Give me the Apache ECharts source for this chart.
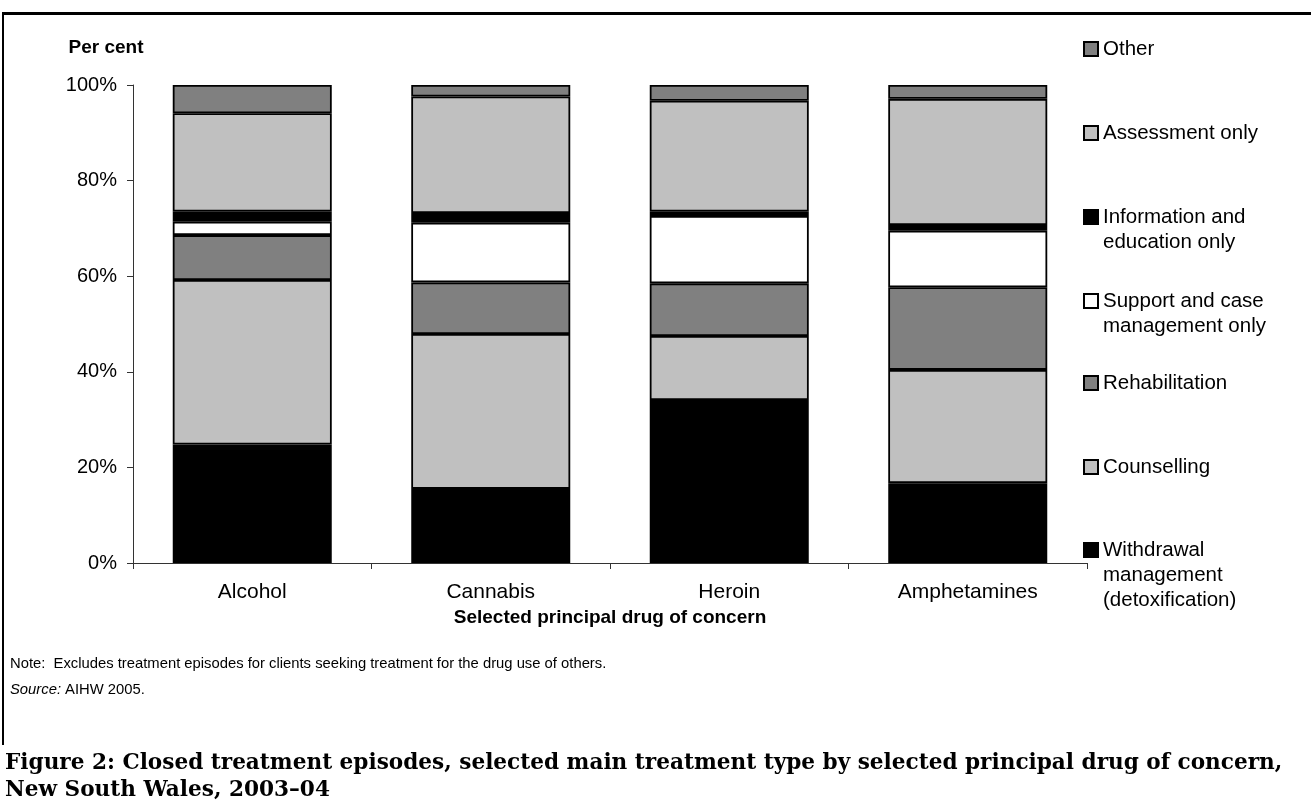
<!DOCTYPE html>
<html>
<head>
<meta charset="utf-8">
<title>Closed treatment episodes, NSW 2003–04</title>
<script src="https://cdn.jsdelivr.net/npm/echarts@6/dist/echarts.min.js"></script>
<style>
  html, body { margin: 0; padding: 0; background: #fff; }
  #chart { width: 1311px; height: 811px; }
</style>
</head>
<body>
<div id="chart"></div>
<script>
// selected principal drugs of concern
const drugs = ["Alcohol", "Cannabis", "Heroin", "Amphetamines"];
const yTicks = [0, 20, 40, 60, 80, 100];

// per cent of closed episodes, by main treatment type
const withdrawal = [24.8, 15.5, 34.1, 16.7];
const counselling = [34.4, 32.4, 13.4, 23.7];
const rehabilitation = [9.4, 10.8, 11.0, 17.3];
const supportCase = [2.8, 12.5, 14.1, 11.8];
const infoEducation = [2.1, 2.0, 0.9, 1.2];
const assessment = [20.6, 24.4, 23.2, 26.4];
const other = [5.9, 2.4, 3.3, 2.9];

const FONT = "Liberation Sans";
const LINE_H = 25;
const ICON = 14;

// stacked bottom to top
const types = [
  { name: "Withdrawal management (detoxification)", label: "Withdrawal\nmanagement\n(detoxification)", data: withdrawal, color: "#000000", iconTop: 543 },
  { name: "Counselling", label: "Counselling", data: counselling, color: "#c0c0c0", iconTop: 460 },
  { name: "Rehabilitation", label: "Rehabilitation", data: rehabilitation, color: "#808080", iconTop: 376 },
  { name: "Support and case management only", label: "Support and case\nmanagement only", data: supportCase, color: "#ffffff", iconTop: 294 },
  { name: "Information and education only", label: "Information and\neducation only", data: infoEducation, color: "#000000", iconTop: 210 },
  { name: "Assessment only", label: "Assessment only", data: assessment, color: "#c0c0c0", iconTop: 126 },
  { name: "Other", label: "Other", data: other, color: "#808080", iconTop: 42 }
];

// one legend per item; blank lines on top keep the icon level with the first text line
function makeLegend(t) {
  const n = t.label.split("\n").length;
  const text = "\n".repeat(n - 1) + t.label;
  const shift = Math.max(0, ((2 * n - 1) * LINE_H - ICON) / 2);
  return {
    data: [t.name],
    orient: "vertical",
    left: 1083,
    top: t.iconTop - shift,
    padding: 0,
    itemWidth: ICON,
    itemHeight: ICON,
    selectedMode: false,
    icon: "rect",
    itemStyle: { borderColor: "#000", borderWidth: 2 },
    formatter: () => text,
    textStyle: {
      fontFamily: FONT,
      fontSize: 20.5,
      color: "#000",
      lineHeight: LINE_H
    }
  };
}

const chart = echarts.init(document.getElementById("chart"));

chart.setOption({
  animation: false,
  backgroundColor: "#fff",
  textStyle: { fontFamily: FONT, color: "#000" },
  grid: { left: 133, right: 224, top: 85, bottom: 248 },
  legend: types.map(makeLegend),
  xAxis: {
    type: "category",
    data: drugs,
    name: "Selected principal drug of concern",
    nameLocation: "middle",
    nameGap: 45,
    nameTextStyle: { fontFamily: FONT, fontSize: 19, fontWeight: "bold", color: "#000" },
    axisLine: { lineStyle: { color: "#333", width: 1 } },
    axisTick: { show: true, length: 6, lineStyle: { color: "#333" } },
    axisLabel: { fontFamily: FONT, fontSize: 21, color: "#000", margin: 19 }
  },
  yAxis: {
    type: "value",
    min: yTicks[0],
    max: yTicks[yTicks.length - 1],
    interval: yTicks[1] - yTicks[0],
    name: "Per cent",
    nameLocation: "end",
    nameGap: 28,
    nameTextStyle: { fontFamily: FONT, fontSize: 19, fontWeight: "bold", color: "#000", align: "center", padding: [0, 54, 0, 0] },
    splitLine: { show: false },
    axisLine: { show: true, lineStyle: { color: "#333", width: 1 } },
    axisTick: { show: true, length: 6, lineStyle: { color: "#333" } },
    axisLabel: { fontFamily: FONT, fontSize: 20, color: "#000", margin: 16, formatter: "{value}%" }
  },
  series: types.map(t => ({
    name: t.name,
    type: "bar",
    stack: "total",
    barWidth: 159,
    data: t.data,
    itemStyle: { color: t.color, borderColor: "#000", borderWidth: 1.8 }
  })),
  graphic: [
    // frame round the figure
    { type: "rect", shape: { x: 2, y: 12, width: 1309, height: 3 }, style: { fill: "#000" } },
    { type: "rect", shape: { x: 2, y: 12, width: 2, height: 733 }, style: { fill: "#000" } },
    {
      type: "text", left: 10, top: 656,
      style: { text: "Note:  Excludes treatment episodes for clients seeking treatment for the drug use of others.", font: "14.8px 'Liberation Sans'", fill: "#000" }
    },
    {
      type: "text", left: 10, top: 682,
      style: {
        text: "{i|Source:} AIHW 2005.",
        font: "14.8px 'Liberation Sans'", fill: "#000",
        rich: { i: { fontStyle: "italic", fontFamily: FONT, fontSize: 14.8 } }
      }
    },
    {
      type: "text", left: 5, top: 750,
      style: {
        text: "Figure 2: Closed treatment episodes, selected main treatment type by selected principal drug of concern,\nNew South Wales, 2003–04",
        font: "bold 21.6px 'DejaVu Serif'", fill: "#000", lineHeight: 27
      }
    }
  ]
});
</script>
</body>
</html>
